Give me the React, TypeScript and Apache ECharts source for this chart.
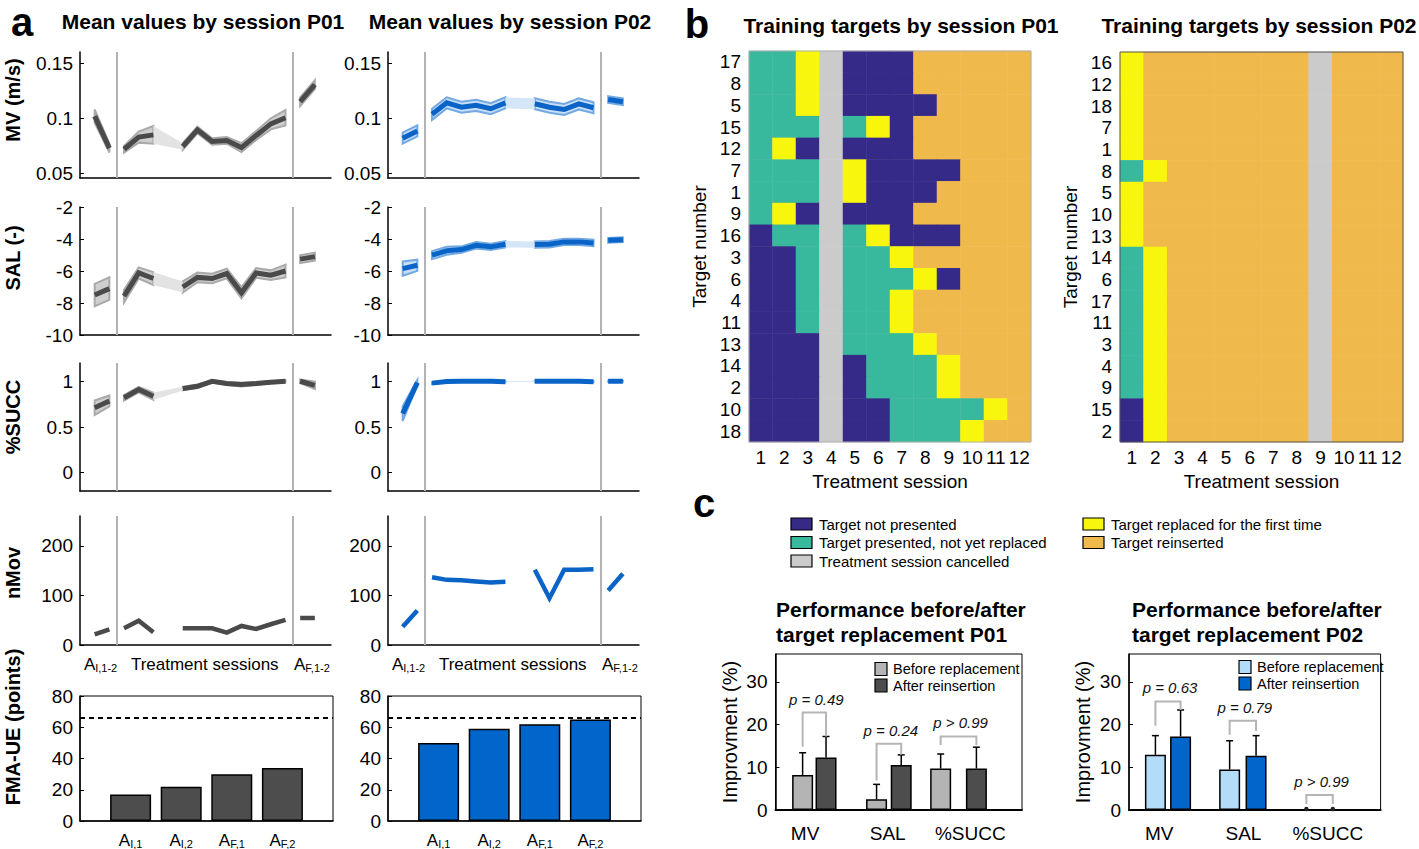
import React, { useEffect, useRef } from "react";
import * as echarts from "echarts";

const FONT = "'Liberation Sans', Arial, Helvetica, sans-serif";

// ---------------- Panel a data ----------------
// x index: 0 AI,1 | 1 AI,2 | 2..13 treatment sessions 1..12 | 14 AF,1 | 15 AF,2
const SESSION_X = [0, 1, 2, 3, 4, 5, 6, 7, 8, 9, 10, 11, 12, 13, 14, 15];

const MV_P01 = [0.102, 0.073, 0.072, 0.083, 0.085, null, 0.0745, 0.0895, 0.079, 0.08, 0.0735, 0.0845, 0.095, 0.1005, 0.115, 0.1305];
const MV_P01_SD = [0.006, 0.004, 0.003, 0.005, 0.008, null, 0.003, 0.003, 0.003, 0.003, 0.004, 0.004, 0.005, 0.007, 0.004, 0.004];
const MV_P02 = [0.082, 0.0886, 0.1036, 0.114, 0.11, 0.1117, 0.1087, 0.114, null, 0.1132, 0.11, 0.108, 0.113, 0.1096, 0.117, 0.115];
const MV_P02_SD = [0.005, 0.005, 0.005, 0.005, 0.005, 0.005, 0.005, 0.005, null, 0.005, 0.005, 0.005, 0.005, 0.005, 0.003, 0.003];

const SAL_P01 = [-7.5, -7.1, -7.57, -6.12, -6.47, null, -7.0, -6.4, -6.47, -6.16, -7.36, -6.12, -6.26, -6.0, -5.26, -5.1];
const SAL_P01_SD = [0.7, 0.7, 0.4, 0.35, 0.4, null, 0.35, 0.3, 0.3, 0.3, 0.35, 0.3, 0.3, 0.4, 0.25, 0.25];
const SAL_P02 = [-5.85, -5.64, -5.01, -4.74, -4.66, -4.39, -4.49, -4.33, null, -4.35, -4.33, -4.18, -4.18, -4.25, -4.08, -4.04];
const SAL_P02_SD = [0.45, 0.35, 0.25, 0.25, 0.2, 0.2, 0.2, 0.2, null, 0.2, 0.2, 0.2, 0.2, 0.2, 0.15, 0.15];

const SUCC_P01 = [0.71, 0.785, 0.82, 0.91, 0.836, null, 0.92, 0.945, 1.0, 0.975, 0.964, 0.975, 0.99, 1.0, 1.0, 0.956];
const SUCC_P01_SD = [0.08, 0.06, 0.03, 0.03, 0.04, null, 0.02, 0.02, 0.01, 0.015, 0.02, 0.015, 0.01, 0.01, 0.02, 0.04];
const SUCC_P02 = [0.646, 0.985, 0.98, 0.997, 1.0, 1.0, 1.0, 0.995, null, 1.0, 1.0, 1.0, 1.0, 0.995, 1.0, 1.0];
const SUCC_P02_SD = [0.08, 0.03, 0.01, 0.005, 0.005, 0.005, 0.005, 0.005, null, 0.005, 0.005, 0.005, 0.005, 0.005, 0.005, 0.005];

const NMOV_P01 = [21.5, 31.6, 33.7, 49, 25.6, null, 33.7, 33.7, 33.7, 25, 38.4, 32.3, 41.8, 50.5, 54.5, 54.5];
const NMOV_P02 = [37, 69.4, 136.7, 131.3, 130.6, 128, 126, 127.3, null, 151.5, 94.3, 151.5, 151.5, 152.9, 109.8, 143.4];

// contiguous segments (index ranges) and the gap over the cancelled session
const SEG_P01 = [[0, 1], [2, 4], [6, 13], [14, 15]];
const GAP_P01 = [4, 6];
const SEG_P02 = [[0, 1], [2, 7], [9, 13], [14, 15]];
const GAP_P02 = [7, 9];
const SEPARATORS = [1.5, 13.5];

const MV_TICKS = [0.05, 0.1, 0.15];
const SAL_TICKS = [-10, -8, -6, -4, -2];
const SUCC_TICKS = [0, 0.5, 1];
const NMOV_TICKS = [0, 100, 200];
const SESSION_LABEL_POS = [0.4, 7.5, 14.8];
const SESSION_LABELS = ["{a|A}{s|I,1-2}", "{t|Treatment sessions}", "{a|A}{s|F,1-2}"];

// FMA-UE
const FMA_X = [1, 2, 3, 4];
const FMA_LABELS = ["{a|A}{s|I,1}", "{a|A}{s|I,2}", "{a|A}{s|F,1}", "{a|A}{s|F,2}"];
const FMA_P01 = [17, 22, 30, 34];
const FMA_P02 = [50, 59, 62, 65];
const FMA_MAX = 66;
const FMA_TICKS = [0, 20, 40, 60, 80];

// ---------------- Panel b data ----------------
// 0 not presented, 1 presented not yet replaced, 2 replaced first time, 3 reinserted, 4 cancelled
const SESSIONS = ["1", "2", "3", "4", "5", "6", "7", "8", "9", "10", "11", "12"];
const ROWS_P01 = ["17", "8", "5", "15", "12", "7", "1", "9", "16", "3", "6", "4", "11", "13", "14", "2", "10", "18"];
const HEAT_P01 = [
  [1, 1, 2, 4, 0, 0, 0, 3, 3, 3, 3, 3],
  [1, 1, 2, 4, 0, 0, 0, 3, 3, 3, 3, 3],
  [1, 1, 2, 4, 0, 0, 0, 0, 3, 3, 3, 3],
  [1, 1, 1, 4, 1, 2, 0, 3, 3, 3, 3, 3],
  [1, 2, 0, 4, 0, 0, 0, 3, 3, 3, 3, 3],
  [1, 1, 1, 4, 2, 0, 0, 0, 0, 3, 3, 3],
  [1, 1, 1, 4, 2, 0, 0, 0, 3, 3, 3, 3],
  [1, 2, 0, 4, 0, 0, 0, 3, 3, 3, 3, 3],
  [0, 1, 1, 4, 1, 2, 0, 0, 0, 3, 3, 3],
  [0, 0, 1, 4, 1, 1, 2, 3, 3, 3, 3, 3],
  [0, 0, 1, 4, 1, 1, 1, 2, 0, 3, 3, 3],
  [0, 0, 1, 4, 1, 1, 2, 3, 3, 3, 3, 3],
  [0, 0, 1, 4, 1, 1, 2, 3, 3, 3, 3, 3],
  [0, 0, 0, 4, 1, 1, 1, 2, 3, 3, 3, 3],
  [0, 0, 0, 4, 0, 1, 1, 1, 2, 3, 3, 3],
  [0, 0, 0, 4, 0, 1, 1, 1, 2, 3, 3, 3],
  [0, 0, 0, 4, 0, 0, 1, 1, 1, 1, 2, 3],
  [0, 0, 0, 4, 0, 0, 1, 1, 1, 2, 3, 3],
];
const ROWS_P02 = ["16", "12", "18", "7", "1", "8", "5", "10", "13", "14", "6", "17", "11", "3", "4", "9", "15", "2"];
const HEAT_P02 = [
  [2, 3, 3, 3, 3, 3, 3, 3, 4, 3, 3, 3],
  [2, 3, 3, 3, 3, 3, 3, 3, 4, 3, 3, 3],
  [2, 3, 3, 3, 3, 3, 3, 3, 4, 3, 3, 3],
  [2, 3, 3, 3, 3, 3, 3, 3, 4, 3, 3, 3],
  [2, 3, 3, 3, 3, 3, 3, 3, 4, 3, 3, 3],
  [1, 2, 3, 3, 3, 3, 3, 3, 4, 3, 3, 3],
  [2, 3, 3, 3, 3, 3, 3, 3, 4, 3, 3, 3],
  [2, 3, 3, 3, 3, 3, 3, 3, 4, 3, 3, 3],
  [2, 3, 3, 3, 3, 3, 3, 3, 4, 3, 3, 3],
  [1, 2, 3, 3, 3, 3, 3, 3, 4, 3, 3, 3],
  [1, 2, 3, 3, 3, 3, 3, 3, 4, 3, 3, 3],
  [1, 2, 3, 3, 3, 3, 3, 3, 4, 3, 3, 3],
  [1, 2, 3, 3, 3, 3, 3, 3, 4, 3, 3, 3],
  [1, 2, 3, 3, 3, 3, 3, 3, 4, 3, 3, 3],
  [1, 2, 3, 3, 3, 3, 3, 3, 4, 3, 3, 3],
  [1, 2, 3, 3, 3, 3, 3, 3, 4, 3, 3, 3],
  [0, 2, 3, 3, 3, 3, 3, 3, 4, 3, 3, 3],
  [0, 2, 3, 3, 3, 3, 3, 3, 4, 3, 3, 3],
];
const LEGEND_LABELS = [
  "Target not presented",
  "Target presented, not yet replaced",
  "Target replaced for the first time",
  "Target reinserted",
  "Treatment session cancelled",
];
const HEAT_COLORS = ["#352a87", "#38b89c", "#f9f60e", "#f0b94b", "#cbcbcb"];

// ---------------- Panel c data ----------------
const PERF_METRICS = ["MV", "SAL", "%SUCC"];
const PERF_LABEL_POS = [1.2, 4.55, 7.9];
const PERF_TICKS = [0, 10, 20, 30];
const BEFORE_X_P01 = [1.1, 4.1, 6.7];
const AFTER_X_P01 = [2.05, 5.1, 8.15];
const BEFORE_P01 = [8.2, 2.5, 9.7];
const BEFORE_P01_SD = [5.2, 3.5, 3.4];
const AFTER_P01 = [12.3, 10.5, 9.7];
const AFTER_P01_SD = [4.9, 2.4, 5.0];
const PVAL_P01 = ["p = 0.49", "p = 0.24", "p > 0.99"];
const BRACKET_P01 = [22.8, 15.5, 17.2];
const LEG_P01 = [[14.8, 17.2], [6.9, 12.9], [15.2, 15.2]];

const BEFORE_X_P02 = [1.05, 4.0, 7.05];
const AFTER_X_P02 = [2.05, 5.05, 8.1];
const BEFORE_P02 = [12.9, 9.5, 0];
const BEFORE_P02_SD = [4.5, 6.7, 0];
const AFTER_P02 = [17.2, 12.7, 0];
const AFTER_P02_SD = [6.2, 4.7, 0];
const PVAL_P02 = ["p = 0.63", "p = 0.79", "p > 0.99"];
const BRACKET_P02 = [25.4, 20.9, 3.5];
const LEG_P02 = [[19.7, 23.4], [17.6, 18.5], [1.4, 1.4]];

const PERF_LEGEND = ["Before replacement", "After reinsertion"];

// ---------------- helpers ----------------
const range = (a: number, b: number) => SESSION_X.filter((i) => i >= a && i <= b);
const pick = (arr: number[], v: number) => arr.findIndex((p) => Math.abs(p - v) < 1e-6);

const C_P01 = { line: "#4a4a4a", band: "#cfcfcf", edge: "#aaaaaa", gap: "#e3e3e3" };
const C_P02 = { line: "#0a64c8", band: "#c8def4", edge: "#73a9e2", gap: "#d4e6f7" };

function buildOption() {
  const grid: any[] = [];
  const xAxis: any[] = [];
  const yAxis: any[] = [];
  const series: any[] = [];
  const graphic: any[] = [];

  const txt = (text: string, x: number, y: number, size: number, opts: any = {}) => ({
    type: "text",
    x,
    y,
    rotation: opts.rotation || 0,
    silent: true,
    style: {
      text,
      fill: "#000",
      fontSize: size,
      fontWeight: opts.bold ? "bold" : "normal",
      fontStyle: opts.italic ? "italic" : "normal",
      fontFamily: FONT,
      textAlign: opts.align || "center",
      textVerticalAlign: "middle",
      align: opts.align || "center",
      verticalAlign: "middle",
    },
  });

  const subRich = {
    a: { fontSize: 17, fontFamily: FONT, color: "#000", lineHeight: 20, verticalAlign: "bottom" },
    s: { fontSize: 11, fontFamily: FONT, color: "#000", lineHeight: 12, verticalAlign: "bottom" },
    t: { fontSize: 17, fontFamily: FONT, color: "#000", lineHeight: 20, verticalAlign: "bottom" },
  };

  // ---------- Panel a line rows ----------
  const cols = [80, 388];
  const rows = [
    { top: 52, height: 126, min: 0.046, max: 0.16, ticks: MV_TICKS },
    { top: 207, height: 128, min: -10, max: -2, ticks: SAL_TICKS },
    { top: 363, height: 128, min: -0.2, max: 1.2, ticks: SUCC_TICKS },
    { top: 516, height: 129, min: 0, max: 260, ticks: NMOV_TICKS },
  ];
  const rowData = [
    [[MV_P01, MV_P01_SD], [MV_P02, MV_P02_SD]],
    [[SAL_P01, SAL_P01_SD], [SAL_P02, SAL_P02_SD]],
    [[SUCC_P01, SUCC_P01_SD], [SUCC_P02, SUCC_P02_SD]],
    [[NMOV_P01, null], [NMOV_P02, null]],
  ];

  rows.forEach((r, ri) => {
    cols.forEach((left, ci) => {
      const gi = grid.length;
      grid.push({ left, top: r.top, width: 251, height: r.height, containLabel: false });
      const isLast = ri === rows.length - 1;
      xAxis.push({
        gridIndex: gi,
        type: "value",
        min: -1,
        max: 16.1,
        axisLine: { show: true, onZero: false, lineStyle: { color: "#000", width: 1.5 } },
        axisTick: { show: false },
        splitLine: { show: false },
        axisLabel: isLast
          ? {
              show: true,
              customValues: SESSION_LABEL_POS,
              margin: 8,
              formatter: (v: number) => SESSION_LABELS[pick(SESSION_LABEL_POS, v)],
              rich: subRich,
            }
          : { show: false },
      });
      yAxis.push({
        gridIndex: gi,
        type: "value",
        min: r.min,
        max: r.max,
        axisLine: { show: true, onZero: false, lineStyle: { color: "#000", width: 1.5 } },
        axisTick: { show: true, inside: true, length: 4, customValues: r.ticks, lineStyle: { color: "#000" } },
        splitLine: { show: false },
        axisLabel: {
          customValues: r.ticks,
          fontSize: 19,
          color: "#000",
          fontFamily: FONT,
          margin: 7,
          formatter: (v: number) => String(v),
        },
      });
      const [mean, sd] = rowData[ri][ci] as any;
      const segs = ci === 0 ? SEG_P01 : SEG_P02;
      const gap = ci === 0 ? GAP_P01 : GAP_P02;
      const c = ci === 0 ? C_P01 : C_P02;
      if (sd) {
        const items = segs.map((s) => [s[0], s[1], 0]).concat([[gap[0], gap[1], 1]]);
        series.push({
          type: "custom",
          xAxisIndex: gi,
          yAxisIndex: gi,
          silent: true,
          z: 2,
          clip: false,
          data: items,
          renderItem: (params: any, api: any) => {
            const s = api.value(0);
            const e = api.value(1);
            const k = api.value(2);
            const idx = k ? [s, e] : range(s, e);
            const up = idx.map((i: number) => api.coord([i, mean[i] + sd[i]]));
            const lo = idx.map((i: number) => api.coord([i, mean[i] - sd[i]])).reverse();
            return {
              type: "polygon",
              shape: { points: up.concat(lo) },
              style: k
                ? { fill: c.gap, stroke: null, lineWidth: 0 }
                : { fill: c.band, stroke: c.edge, lineWidth: 2 },
            };
          },
        });
      }
      segs.forEach((s, si) => {
        const obj: any = {
          type: "line",
          xAxisIndex: gi,
          yAxisIndex: gi,
          silent: true,
          z: 3,
          symbol: "none",
          showSymbol: false,
          data: range(s[0], s[1]).map((i) => [SESSION_X[i], mean[i]]),
          lineStyle: { color: c.line, width: sd ? 5 : 4.5, cap: "butt", join: "miter" },
        };
        if (si === 0) {
          obj.markLine = {
            silent: true,
            symbol: "none",
            label: { show: false },
            lineStyle: { color: "#b3b3b3", width: 2, type: "solid" },
            data: SEPARATORS.map((x) => ({ xAxis: x })),
          };
        }
        series.push(obj);
      });
    });
  });

  // ---------- FMA bars ----------
  [
    { left: 80, data: FMA_P01, color: "#4d4d4d" },
    { left: 388, data: FMA_P02, color: "#0066cc" },
  ].forEach((p) => {
    const gi = grid.length;
    grid.push({ left: p.left, top: 696, width: 253, height: 129, show: true, borderColor: "#000", borderWidth: 1, backgroundColor: "transparent" });
    xAxis.push({
      gridIndex: gi,
      type: "value",
      min: 0,
      max: 5,
      axisLine: { show: true, onZero: false, lineStyle: { color: "#000", width: 1.5 } },
      axisTick: { show: false },
      splitLine: { show: false },
      axisLabel: {
        customValues: FMA_X,
        margin: 8,
        formatter: (v: number) => FMA_LABELS[pick(FMA_X, v)],
        rich: subRich,
      },
    });
    yAxis.push({
      gridIndex: gi,
      type: "value",
      min: 0,
      max: 80,
      interval: 20,
      axisLine: { show: true, onZero: false, lineStyle: { color: "#000", width: 1.5 } },
      axisTick: { show: true, inside: true, length: 4 },
      splitLine: { show: false },
      axisLabel: { fontSize: 19, color: "#000", fontFamily: FONT, margin: 7, customValues: FMA_TICKS },
    });
    series.push({
      type: "bar",
      xAxisIndex: gi,
      yAxisIndex: gi,
      silent: true,
      barWidth: 41,
      data: FMA_X.map((x, i) => [x, p.data[i]]),
      itemStyle: { color: p.color, borderColor: "#000", borderWidth: 1.5 },
      markLine: {
        silent: true,
        symbol: "none",
        label: { show: false },
        lineStyle: { color: "#000", width: 2, type: [5, 4] },
        data: [{ yAxis: FMA_MAX }],
      },
    });
  });

  // ---------- Panel b heatmaps ----------
  const heatSeriesIdx: number[] = [];
  [
    { left: 749, width: 282, top: 51, height: 391, rows: ROWS_P01, m: HEAT_P01, border: "#b0b0b0" },
    { left: 1120, width: 283, top: 52, height: 390, rows: ROWS_P02, m: HEAT_P02, border: "#555" },
  ].forEach((h) => {
    const gi = grid.length;
    grid.push({ left: h.left, top: h.top, width: h.width, height: h.height, show: true, borderColor: h.border, borderWidth: 1, backgroundColor: "transparent", z: 5 });
    xAxis.push({
      gridIndex: gi,
      type: "category",
      data: SESSIONS,
      axisLine: { show: false },
      axisTick: { show: false },
      splitLine: { show: false },
      axisLabel: { interval: 0, fontSize: 19, color: "#000", fontFamily: FONT, margin: 6 },
      name: "Treatment session",
      nameLocation: "middle",
      nameGap: 30,
      nameTextStyle: { fontSize: 19, color: "#000", fontFamily: FONT },
    });
    yAxis.push({
      gridIndex: gi,
      type: "category",
      data: h.rows,
      inverse: true,
      axisLine: { show: false },
      axisTick: { show: false },
      splitLine: { show: false },
      axisLabel: { interval: 0, fontSize: 19, color: "#000", fontFamily: FONT, margin: 8 },
      name: "Target number",
      nameLocation: "middle",
      nameGap: 40,
      nameRotate: 90,
      nameTextStyle: { fontSize: 19, color: "#000", fontFamily: FONT },
    });
    const data: any[] = [];
    h.m.forEach((row, ri) => row.forEach((v, ci) => data.push([ci, ri, v])));
    heatSeriesIdx.push(series.length);
    series.push({
      type: "heatmap",
      xAxisIndex: gi,
      yAxisIndex: gi,
      silent: true,
      data,
      itemStyle: { borderWidth: 0 },
    });
  });

  // ---------- Panel c bars ----------
  [
    {
      left: 775.5, width: 246.5, bx: BEFORE_X_P01, ax: AFTER_X_P01, b: BEFORE_P01, bsd: BEFORE_P01_SD, a: AFTER_P01, asd: AFTER_P01_SD,
      pv: PVAL_P01, br: BRACKET_P01, leg: LEG_P01, cb: "#b4b4b4", ca: "#4d4d4d",
    },
    {
      left: 1129, width: 251.6, bx: BEFORE_X_P02, ax: AFTER_X_P02, b: BEFORE_P02, bsd: BEFORE_P02_SD, a: AFTER_P02, asd: AFTER_P02_SD,
      pv: PVAL_P02, br: BRACKET_P02, leg: LEG_P02, cb: "#b3dcf8", ca: "#0066cc",
    },
  ].forEach((p) => {
    const gi = grid.length;
    grid.push({ left: p.left, top: 654, width: p.width, height: 156, show: true, borderColor: "#000", borderWidth: 1, backgroundColor: "transparent" });
    xAxis.push({
      gridIndex: gi,
      type: "value",
      min: 0,
      max: 10,
      axisLine: { show: true, onZero: false, lineStyle: { color: "#000", width: 2 } },
      axisTick: { show: false },
      splitLine: { show: false },
      axisLabel: {
        customValues: PERF_LABEL_POS,
        margin: 14,
        fontSize: 19,
        color: "#000",
        fontFamily: FONT,
        formatter: (v: number) => PERF_METRICS[pick(PERF_LABEL_POS, v)],
      },
    });
    yAxis.push({
      gridIndex: gi,
      type: "value",
      min: 0,
      max: 36.5,
      axisLine: { show: true, onZero: false, lineStyle: { color: "#000", width: 1.5 } },
      axisTick: { show: true, inside: true, length: 4, customValues: PERF_TICKS },
      splitLine: { show: false },
      axisLabel: { customValues: PERF_TICKS, fontSize: 19, color: "#000", fontFamily: FONT, margin: 8 },
      name: "Improvment (%)",
      nameLocation: "middle",
      nameRotate: 90,
      nameGap: 36,
      nameTextStyle: { fontSize: 20, color: "#000", fontFamily: FONT },
    });
    series.push({
      type: "bar",
      xAxisIndex: gi,
      yAxisIndex: gi,
      silent: true,
      barWidth: 21,
      barGap: "-100%",
      data: p.bx.map((x, i) => [x, p.b[i]]),
      itemStyle: { color: p.cb, borderColor: "#000", borderWidth: 1.5 },
    });
    series.push({
      type: "bar",
      xAxisIndex: gi,
      yAxisIndex: gi,
      silent: true,
      barWidth: 21,
      barGap: "-100%",
      data: p.ax.map((x, i) => [x, p.a[i]]),
      itemStyle: { color: p.ca, borderColor: "#000", borderWidth: 1.5 },
    });
    // error bars
    const errItems = p.bx.map((x, i) => [x, p.b[i], p.bsd[i]]).concat(p.ax.map((x, i) => [x, p.a[i], p.asd[i]]));
    series.push({
      type: "custom",
      xAxisIndex: gi,
      yAxisIndex: gi,
      silent: true,
      z: 4,
      clip: false,
      data: errItems,
      renderItem: (params: any, api: any) => {
        const x = api.value(0);
        const v = api.value(1);
        const s = api.value(2);
        const p0 = api.coord([x, v]);
        const p1 = api.coord([x, v + s]);
        if (!s) {
          return { type: "circle", shape: { cx: p0[0], cy: p0[1] - 1, r: 2.2 }, style: { fill: "#222" } };
        }
        return {
          type: "group",
          children: [
            { type: "line", shape: { x1: p0[0], y1: p0[1], x2: p1[0], y2: p1[1] }, style: { stroke: "#000", lineWidth: 1.5 } },
            { type: "line", shape: { x1: p1[0] - 3.5, y1: p1[1], x2: p1[0] + 3.5, y2: p1[1] }, style: { stroke: "#000", lineWidth: 1.5 } },
          ],
        };
      },
    });
    // brackets + p values
    const brItems = p.bx.map((x, i) => [x, p.ax[i], p.br[i], p.leg[i][0], p.leg[i][1], i]);
    const pv = p.pv;
    series.push({
      type: "custom",
      xAxisIndex: gi,
      yAxisIndex: gi,
      silent: true,
      z: 4,
      clip: false,
      data: brItems,
      renderItem: (params: any, api: any) => {
        const xl = api.value(0);
        const xr = api.value(1);
        const y = api.value(2);
        const l1 = api.coord([xl, api.value(3)]);
        const l2 = api.coord([xl, y]);
        const r2 = api.coord([xr, y]);
        const r1 = api.coord([xr, api.value(4)]);
        const label = pv[api.value(5)];
        return {
          type: "group",
          children: [
            { type: "polyline", shape: { points: [l1, l2, r2, r1] }, style: { stroke: "#b5b5b5", lineWidth: 2, fill: null } },
            {
              type: "text",
              x: (l2[0] + r2[0]) / 2 + 2,
              y: l2[1] - 6,
              style: {
                text: label,
                fill: "#111",
                font: "italic 15px " + FONT,
                textAlign: "center",
                textVerticalAlign: "bottom",
                align: "center",
                verticalAlign: "bottom",
              },
            },
          ],
        };
      },
    });
  });

  // ---------- graphic texts ----------
  graphic.push(txt("a", 22, 22, 40, { bold: true }));
  graphic.push(txt("Mean values by session P01", 203, 21, 21, { bold: true }));
  graphic.push(txt("Mean values by session P02", 510, 21, 21, { bold: true }));
  graphic.push(txt("MV (m/s)", 13, 100, 20, { bold: true, rotation: Math.PI / 2 }));
  graphic.push(txt("SAL (-)", 13, 258, 20, { bold: true, rotation: Math.PI / 2 }));
  graphic.push(txt("%SUCC", 13, 417, 20, { bold: true, rotation: Math.PI / 2 }));
  graphic.push(txt("nMov", 13, 573, 20, { bold: true, rotation: Math.PI / 2 }));
  graphic.push(txt("FMA-UE (points)", 13, 727, 20, { bold: true, rotation: Math.PI / 2 }));

  graphic.push(txt("b", 697, 24, 40, { bold: true }));
  graphic.push(txt("Training targets by session P01", 901, 25, 21, { bold: true }));
  graphic.push(txt("Training targets by session P02", 1259, 25, 21, { bold: true }));

  graphic.push(txt("c", 704, 503, 40, { bold: true }));
  // legend of panel b colours
  const legendPos = [
    { x: 791, y: 524, k: 0 },
    { x: 791, y: 542.5, k: 1 },
    { x: 1083, y: 524, k: 2 },
    { x: 1083, y: 542.5, k: 3 },
    { x: 791, y: 561, k: 4 },
  ];
  legendPos.forEach((l, i) => {
    graphic.push({
      type: "rect",
      silent: true,
      shape: { x: l.x, y: l.y - 6, width: 21, height: 12 },
      style: { fill: HEAT_COLORS[l.k], stroke: "#000", lineWidth: 1.2 },
    });
    graphic.push(txt(LEGEND_LABELS[i], l.x + 28, l.y, 15, { align: "left" }));
  });

  graphic.push(txt("Performance before/after", 776, 609, 21, { bold: true, align: "left" }));
  graphic.push(txt("target replacement P01", 776, 634, 21, { bold: true, align: "left" }));
  graphic.push(txt("Performance before/after", 1132, 609, 21, { bold: true, align: "left" }));
  graphic.push(txt("target replacement P02", 1132, 634, 21, { bold: true, align: "left" }));

  [
    { x: 875, y: 669, cols: ["#b4b4b4", "#4d4d4d"] },
    { x: 1239, y: 667, cols: ["#b3dcf8", "#0066cc"] },
  ].forEach((lg) => {
    PERF_LEGEND.forEach((name, i) => {
      const cy = lg.y + i * 16.5;
      graphic.push({
        type: "rect",
        silent: true,
        shape: { x: lg.x, y: cy - 6.5, width: 12, height: 13 },
        style: { fill: lg.cols[i], stroke: "#000", lineWidth: 1.2 },
      });
      graphic.push(txt(name, lg.x + 18, cy, 14.5, { align: "left" }));
    });
  });

  return {
    animation: false,
    backgroundColor: "#fff",
    textStyle: { fontFamily: FONT },
    grid,
    xAxis,
    yAxis,
    visualMap: [
      {
        type: "piecewise",
        show: false,
        dimension: 2,
        seriesIndex: heatSeriesIdx,
        pieces: HEAT_COLORS.map((color, value) => ({ value, color })),
      },
    ],
    series,
    graphic: { elements: graphic },
  };
}

export default function App() {
  const ref = useRef<HTMLDivElement>(null);
  useEffect(() => {
    const chart = echarts.init(ref.current as HTMLDivElement, null, { renderer: "svg" });
    chart.setOption(buildOption() as any);
    return () => chart.dispose();
  }, []);
  return (
    <div
      ref={ref}
      style={{ position: "absolute", left: 0, top: 0, width: 1419, height: 849, background: "#fff" }}
    />
  );
}
